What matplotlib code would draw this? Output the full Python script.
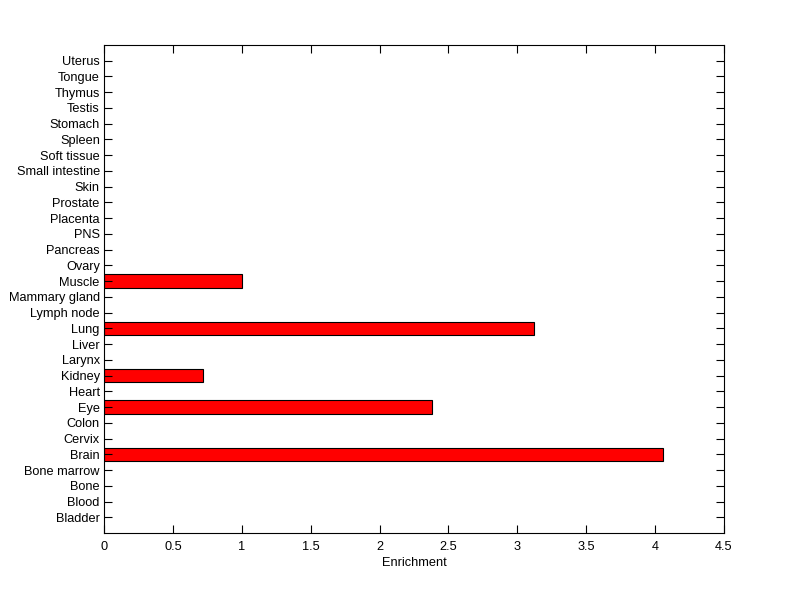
import numpy as np
import matplotlib
matplotlib.use("Agg")
import matplotlib.pyplot as plt

# ----------------------------
# Data
# ----------------------------

tissues = [
    "Bladder", "Blood", "Bone", "Bone marrow", "Brain", "Cervix", "Colon",
    "Eye", "Heart", "Kidney", "Larynx", "Liver", "Lung", "Lymph node",
    "Mammary gland", "Muscle", "Ovary", "Pancreas", "PNS", "Placenta",
    "Prostate", "Skin", "Small intestine", "Soft tissue", "Spleen",
    "Stomach", "Testis", "Thymus", "Tongue", "Uterus",
]

enrichment = [
    0, 0, 0, 0, 4.06, 0, 0,
    2.38, 0, 0.72, 0, 0, 3.12, 0,
    0, 1.0, 0, 0, 0, 0,
    0, 0, 0, 0, 0,
    0, 0, 0, 0, 0,
]

xticks = [0, 0.5, 1, 1.5, 2, 2.5, 3, 3.5, 4, 4.5]
xtick_labels = ["0", "0.5", "1", "1.5", "2", "2.5", "3", "3.5", "4", "4.5"]

# ----------------------------
# Plot
# ----------------------------

plt.rcParams["font.family"] = ["Liberation Sans", "DejaVu Sans"]
plt.rcParams["font.size"] = 9.2

fig = plt.figure(figsize=(8, 5.99), dpi=100)
ax = fig.add_axes([0.13, 0.1102, 0.775, 0.8147])

pos = np.arange(1, len(tissues) + 1)
vals = np.array(enrichment)
mask = vals > 0
ax.barh(pos[mask], vals[mask], height=0.86, color="#ff0000",
        edgecolor="black", linewidth=0.8)

ax.set_xlim(0, 4.5)
ax.set_ylim(0, len(tissues) + 1)
ax.set_yticks(pos)
ax.set_yticklabels(tissues)
ax.set_xticks(xticks)
ax.set_xticklabels(xtick_labels)

ax.tick_params(direction="in", length=6, width=0.8,
               top=True, right=True, color="black")
ax.tick_params(axis="x", pad=6)
ax.tick_params(axis="y", pad=3)
for s in ax.spines.values():
    s.set_linewidth(0.8)

ax.set_xlabel("Enrichment", labelpad=3)

fig.savefig("out.png", dpi=100, facecolor="white")
